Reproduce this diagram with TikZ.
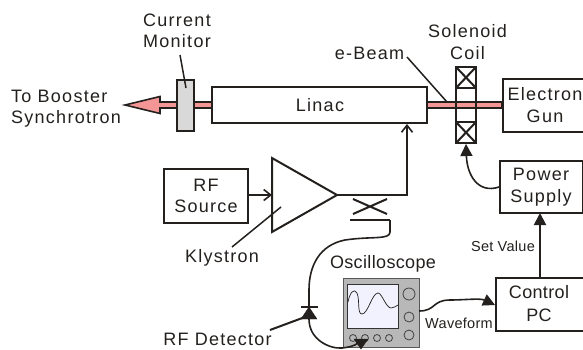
\documentclass[tikz,border=0pt]{standalone}
\usepackage{fontspec}
\setmainfont[LetterSpace=2]{Liberation Sans}
\newfontfamily\widef[LetterSpace=7]{Liberation Sans}
\usetikzlibrary{arrows.meta}
\definecolor{beam}{RGB}{245,150,150}
\definecolor{ink}{RGB}{35,32,30}
\tikzset{
 x=1pt,y=-1pt,
 box/.style={draw=ink,line width=2pt,fill=white,inner sep=0pt},
 lab/.style={text=ink,font=\widef\fontsize{18}{21.5}\selectfont,align=center,inner sep=0pt},
 nlab/.style={text=ink,font=\fontsize{18}{23}\selectfont,align=center,inner sep=0pt},
 slab/.style={text=ink,font=\fontsize{14.5}{16}\selectfont,inner sep=0pt},
 wire/.style={draw=ink,line width=2pt},
 cable/.style={draw=ink,line width=1.6pt},
 thinwire/.style={draw=ink,line width=1.5pt},
 head/.style={-{Triangle[length=12pt,width=12pt]}},
 barb/.style={-{Straight Barb[length=7pt,width=11pt,line width=1.6pt]}},
}
\begin{document}
\begin{tikzpicture}
\useasboundingbox (0,0) rectangle (583,349);
% beam
\draw[draw=ink,line width=1.6pt,fill=beam] (125,105) -- (160,96.5) -- (160,102) -- (212,102) -- (212,108) -- (160,108) -- (160,113.5) -- cycle;
\draw[draw=ink,line width=1.6pt,fill=beam] (427,102) rectangle (502,108);
% boxes
\node[box,minimum width=215pt,minimum height=36pt] (linac) at (319.5,105) {};
\node[box,fill=black!15,minimum width=17pt,minimum height=51pt] (cm) at (185.5,105.5) {};
\node[box,minimum width=81pt,minimum height=53pt,anchor=north west] (gun) at (502,78) {};
\node[box,minimum width=83pt,minimum height=52pt,anchor=north west] (ps) at (499,160) {};
\node[box,minimum width=88pt,minimum height=53pt,anchor=north west] (pc) at (495,277) {};
\node[box,minimum width=84pt,minimum height=54pt,anchor=north west] (rf) at (163,168) {};
% solenoid
\draw[wire] (456,67) rectangle (476,143);
\draw[wire] (456,88) -- (476,88) (456,122) -- (476,122);
\draw[wire] (456,67) -- (476,88) (476,67) -- (456,88) (456,122) -- (476,143) (476,122) -- (456,143);
\draw[draw=ink,line width=1.6pt,fill=beam] (456,102) rectangle (476,108);
% klystron
\coordinate (kt) at (337,195);
\draw[wire,fill=white] (272,158) -- (kt) -- (272,232) -- cycle;
\draw[wire,barb] (kt) -- (407,195) -- (407,124);
\draw[thinwire,barb] (rf.east |- kt) -- (272,195);
% coupler
\draw[wire] (353,199) -- (387,214) (353,214) -- (387,199);
\draw[wire] (350,220) -- (390,220);
% scope
\node[draw=black!65,line width=1pt,fill=black!28,minimum width=76pt,minimum height=69pt,anchor=north west,inner sep=0pt] (scope) at (343,278) {};
\node[draw=black!80,line width=1pt,fill=white!95!blue,minimum width=51pt,minimum height=44pt,anchor=north west,inner sep=0pt] (screen) at (347,284) {};
\draw[ink,line width=.7pt] (348,302) .. controls (350,292) and (354,288) .. (357,293) .. controls (360,300) and (357,314) .. (362,314) .. controls (368,314) and (372,293) .. (378,293) .. controls (382,293) and (386,308) .. (391,308) .. controls (394,308) and (396,306) .. (398,305);
\foreach \x/\y/\r in {409/294/6,409/317/5,409/335/5,353/338/3.5,365/338/3.5,377/338/3.5,389/338/3.5}
 \draw[ink!85,line width=.8pt] (\x,\y) circle (\r);
% detector cable
\draw[cable] (390,220) -- (390,232) .. controls (390,240) and (372,236) .. (345,240) .. controls (320,245) and (309,265) .. (309,290) -- (309,307);
\draw[ink,fill=ink] (309,307) -- (317,319) -- (301,319) -- cycle;
\draw[wire] (301,307) -- (318,307);
\draw[cable] (309,319) .. controls (309,340) and (330,349) .. (342,348) .. controls (350,347) and (354,346) .. (358,343);
\draw[ink,fill=ink] (354,339) -- (368,339) -- (361,349) -- cycle;
% leaders
\coordinate (a1) at (180,55); \coordinate (a2) at (186,88);
\draw[thinwire] (a1) -- (a2);
\coordinate (b1) at (407,57); \coordinate (b2) at (447,102);
\draw[thinwire] (b1) -- (b2);
\coordinate (c1) at (232,247); \coordinate (c2) at (281,207);
\draw[thinwire] (c1) -- (c2);
\coordinate (d1) at (270,330); \coordinate (d2) at (305,317);
\draw[wire] (d1) -- (d2);
% other wires
\draw[cable,head] (ps.west) .. controls (478,194) and (467,175) .. (466,144);
\draw[wire,head] (540,277) -- (540,213);
\draw[cable,head] (419,311) .. controls (436,311) and (432,300) .. (450,300) .. controls (465,300) and (480,298) .. (495,305);
% text
\node[lab] (t1) at (177,31) {Current\\Monitor};
\node[lab,align=left,anchor=west] (t2) at (11,108.5) {To Booster\\Synchrotron};
\node[lab] (t3) at (320,105) {Linac};
\node[lab] (t4) at (467.5,42) {Solenoid\\Coil};
\node[lab] (t5) at (369.5,53) {e-Beam};
\node[lab] (t6) at (545,105) {Electron\\Gun};
\node[lab] (t7) at (541,187) {Power\\Supply};
\node[lab] (t8) at (206,196) {RF\\Source};
\node[lab] (t9) at (222,258) {Klystron};
\node[nlab] (t10) at (383,264) {Oscilloscope};
\node[lab] (t11) at (217.5,339.5) {RF Detector};
\node[nlab] (t12) at (539,304) {Control\\PC};
\node[slab] (t13) at (503,246) {Set Value};
\node[slab] (t14) at (459,323) {Waveform};
\end{tikzpicture}
\end{document}
